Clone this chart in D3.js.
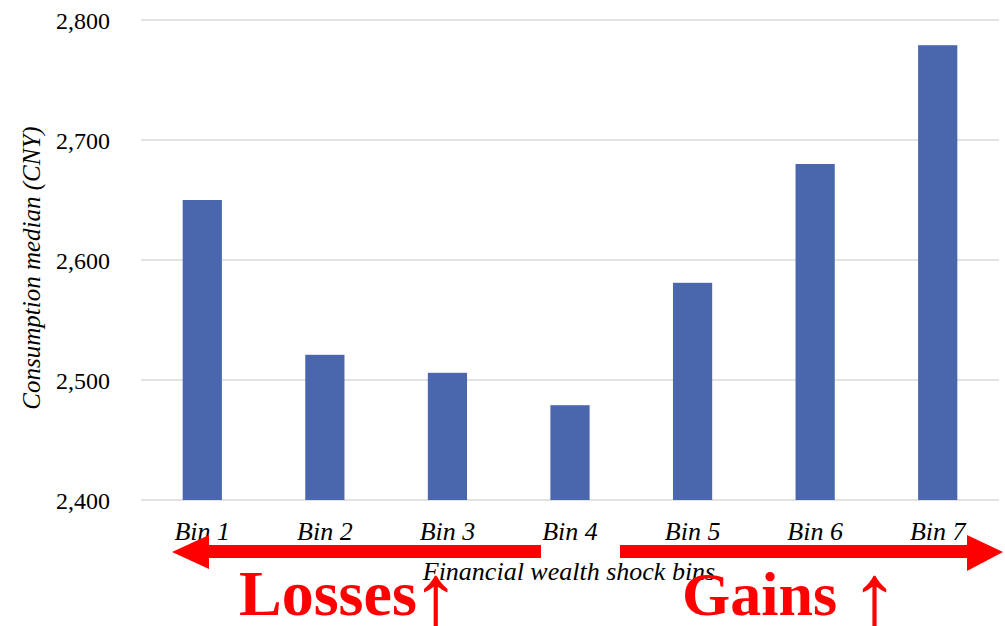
<!DOCTYPE html>
<html><head><meta charset="utf-8">
<script src="https://cdn.jsdelivr.net/npm/d3@7"></script>
<style>body{margin:0;background:#fff}svg{display:block}</style>
</head><body>
<svg id="c" width="1005" height="626"></svg>
<script>
const categories = ["Bin 1","Bin 2","Bin 3","Bin 4","Bin 5","Bin 6","Bin 7"];
const values = [2650, 2521, 2506, 2479, 2581, 2680, 2779];
const yTicks = [2400, 2500, 2600, 2700, 2800];
const yTitle = "Consumption median (CNY)";
const xTitle = "Financial wealth shock bins";
const lossesLabel = ["Losses", "↑"];
const gainsLabel = ["Gains ", "↑"];

(function(){
const svg = d3.select("#c");
const font = "'Liberation Serif','Times New Roman',serif";
const mLeft = 141, mRight = 999, mTop = 20, mBottom = 500;
const x = d3.scaleBand().domain(categories).range([mLeft, mRight]).paddingInner(0.68).paddingOuter(0.34);
const y = d3.scaleLinear().domain([2400, 2800]).range([mBottom, mTop]);

svg.append("g").selectAll("line").data(yTicks).join("line")
  .attr("x1", mLeft).attr("x2", mRight)
  .attr("y1", d => y(d)).attr("y2", d => y(d))
  .attr("stroke", "#d9d9d9").attr("stroke-width", 1.5);

const yAxis = d3.axisLeft(y).tickValues(yTicks).tickFormat(d3.format(",")).tickSize(0).tickPadding(0);
const ga = svg.append("g").attr("transform", `translate(110,0)`).call(yAxis);
ga.select(".domain").remove();
ga.selectAll("text").attr("font-family", font).attr("font-size", 24).attr("fill", "#000").attr("dy", "0.35em");

svg.append("g").selectAll("rect").data(values).join("rect")
  .attr("x", (d, i) => x(categories[i]))
  .attr("width", x.bandwidth())
  .attr("y", d => y(d))
  .attr("height", d => mBottom - y(d))
  .attr("fill", "#4a67ae");

const xAxis = d3.axisBottom(x).tickSize(0).tickPadding(0);
const gx = svg.append("g").attr("transform", `translate(0,${mBottom})`).call(xAxis);
gx.select(".domain").remove();
gx.selectAll("text").attr("font-family", font).attr("font-style", "italic").attr("font-size", 26)
  .attr("fill", "#000").attr("dy", 0).attr("y", 40);

svg.append("text").attr("transform", "translate(40,268) rotate(-90)")
  .attr("text-anchor", "middle").attr("font-family", font).attr("font-style", "italic")
  .attr("font-size", 25).text(yTitle);

const red = "#ff0000";
svg.append("rect").attr("x", 205).attr("y", 545).attr("width", 336).attr("height", 13).attr("fill", red);
svg.append("path").attr("d", "M172,552 L209,535 L209,569 Z").attr("fill", red);
svg.append("rect").attr("x", 620).attr("y", 545).attr("width", 350).attr("height", 13).attr("fill", red);
svg.append("path").attr("d", "M1003,552 L967,535 L967,571 Z").attr("fill", red);

svg.append("text").attr("x", 569).attr("y", 580).attr("text-anchor", "middle")
  .attr("font-family", font).attr("font-style", "italic").attr("font-size", 26).text(xTitle);

function bigLabel(parts, xPos, size, adx) {
  const t = svg.append("text").attr("x", xPos).attr("y", 615).attr("font-family", font)
    .attr("font-weight", "bold").attr("font-size", size).attr("fill", red);
  t.append("tspan").text(parts[0]);
  t.append("tspan").attr("font-weight", "normal").attr("font-size", 100).attr("dx", adx).attr("dy", 17).text(parts[1]);
}
bigLabel(lossesLabel, 239, 64, -6);
bigLabel(gainsLabel, 682, 62, -3);
})();
</script>
</body></html>
